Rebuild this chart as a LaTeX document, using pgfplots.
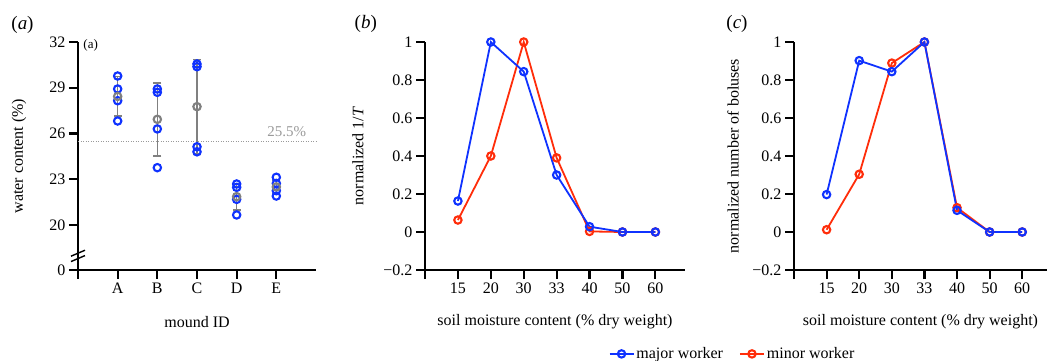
\documentclass[border=0pt]{standalone}
\usepackage{fontspec}
\setmainfont{Liberation Serif}
\usepackage{pgfplots}
\pgfplotsset{compat=1.18}
\definecolor{myblue}{RGB}{15,50,255}
\definecolor{myred}{RGB}{255,45,10}
\definecolor{mygray}{RGB}{128,128,128}
\pgfplotsset{
  panel/.style={
    scale only axis,
    axis x line*=bottom, axis y line*=left,
    axis line style={line width=2.2pt, -},
    tick align=outside,
    major tick length=9pt,
    tick style={line width=2.2pt, black},
    tick label style={font=\fontsize{16}{18}\selectfont},
    label style={font=\fontsize{16}{18}\selectfont},
    /pgf/number format/assume math mode=true,
    xlabel style={at={(axis description cs:0.5,-0.228)}, anchor=center},
    clip=false,
  },
  ser/.style={line width=1.8pt, mark=o, mark size=3.7pt, mark options={fill=white, line width=2.1pt, solid}},
}
\begin{document}
\begin{tikzpicture}
\useasboundingbox (0pt,0pt) rectangle (1049pt,361pt);
% ---------- panel (a)
\begin{axis}[panel,
  at={(78pt,91pt)}, anchor=south west, width=238pt, height=228pt,
  xmin=0, xmax=6, ymin=17.05, ymax=32,
  xtick={0,1,2,3,4,5}, xticklabels={,A,B,C,D,E},
  ytick={17.05,20,23,26,29,32}, yticklabels={0,20,23,26,29,32},
  xlabel={mound ID}, ylabel={water content (\%)},
  ylabel style={at={(axis description cs:-0.248,0.5)}, anchor=center},
  unbounded coords=jump,
]
\addplot[mygray!80, line width=1pt, dash pattern=on 1pt off 1.5pt] coordinates {(0,25.5) (6,25.5)};
% error bars (mean +- spread)
\addplot[mygray, line width=1.6pt, mark=-, mark size=4pt, mark options={line width=1.6pt}]
  coordinates {(1,27.13)(1,29.73)(1,nan)
               (2,24.53)(2,29.33)(2,nan)
               (3,24.66)(3,30.86)(3,nan)
               (4,20.99)(4,22.73)(4,nan)
               (5,22.03)(5,22.97)};
\addplot[only marks, myblue, mark=o, mark size=3.7pt, mark options={fill=white, line width=2.1pt}]
  coordinates {(1,29.77)(1,28.92)(1,28.15)(1,26.82)
               (2,28.92)(2,28.7)(2,26.3)(2,23.76)
               (3,30.56)(3,30.38)(3,25.13)(3,24.8)
               (4,22.69)(4,22.47)(4,21.68)(4,20.66)
               (5,23.13)(5,22.73)(5,22.25)(5,21.9)};
\addplot[only marks, mygray, mark=o, mark size=3.7pt, mark options={fill=white, line width=2.1pt}]
  coordinates {(1,28.43)(2,26.93)(3,27.76)(4,21.86)(5,22.5)};
\node[mygray!80, font=\fontsize{15}{17}\selectfont] at (axis cs:5.26,26.1) {25.5\%};
\node[font=\fontsize{13}{15}\selectfont] at (axis cs:0.32,31.8) {(a)};
\draw[line width=1.4pt] (axis cs:0,18.15) ++(-7pt,-3pt) -- ++(14pt,6pt);
\draw[line width=1.4pt] (axis cs:0,17.8) ++(-7pt,-3pt) -- ++(14pt,6pt);
\end{axis}
% ---------- panel (b)
\begin{axis}[panel,
  at={(425pt,91pt)}, anchor=south west, width=260pt, height=228pt,
  xmin=0, xmax=7.9, ymin=-0.2, ymax=1,
  xtick={0,1,2,3,4,5,6,7}, xticklabels={,15,20,30,33,40,50,60},
  ytick={-0.2,0,0.2,0.4,0.6,0.8,1}, yticklabels={−0.2,0,0.2,0.4,0.6,0.8,1},
  xlabel={soil moisture content (\% dry weight)}, ylabel={normalized 1/\textit{T}},
  ylabel style={at={(axis description cs:-0.258,0.5)}, anchor=center},
]
\addplot[ser, myred] coordinates {(1,0.063)(2,0.40)(3,1)(4,0.39)(5,0.003)(6,0)(7,0)};
\addplot[ser, myblue] coordinates {(1,0.163)(2,1)(3,0.844)(4,0.30)(5,0.028)(6,0)(7,0)};
\end{axis}
% ---------- panel (c)
\begin{axis}[panel,
  at={(794pt,91pt)}, anchor=south west, width=253pt, height=228pt,
  xmin=0, xmax=7.76, ymin=-0.2, ymax=1,
  xtick={0,1,2,3,4,5,6,7}, xticklabels={,15,20,30,33,40,50,60},
  ytick={-0.2,0,0.2,0.4,0.6,0.8,1}, yticklabels={−0.2,0,0.2,0.4,0.6,0.8,1},
  xlabel={soil moisture content (\% dry weight)}, ylabel={normalized number of boluses},
  ylabel style={at={(axis description cs:-0.241,0.5)}, anchor=center},
  legend style={at={(axis description cs:-0.243,-0.368)}, anchor=center, draw=none, fill=none,
    legend columns=2, font=\fontsize{16}{18}\selectfont,
    /tikz/every even column/.append style={column sep=14pt}},
  legend image code/.code={\draw[mark repeat=2, mark phase=2] plot coordinates {(0pt,0pt)(12pt,0pt)(24pt,0pt)};},
]
\addlegendimage{ser, myblue}
\addlegendentry{major worker}
\addlegendimage{ser, myred}
\addlegendentry{minor worker}
\addplot[ser, myred, forget plot] coordinates {(1,0.012)(2,0.304)(3,0.889)(4,1)(5,0.128)(6,0)(7,0)};
\addplot[ser, myblue, forget plot] coordinates {(1,0.197)(2,0.902)(3,0.844)(4,1)(5,0.114)(6,0)(7,0)};
\end{axis}
% ---------- panel titles
\node[font=\fontsize{19}{21}\selectfont] at (22.5pt,336pt) {(\textit{a})};
\node[font=\fontsize{19}{21}\selectfont] at (365.8pt,337pt) {(\textit{b})};
\node[font=\fontsize{19}{21}\selectfont] at (737pt,337pt) {(\textit{c})};
\end{tikzpicture}
\end{document}
